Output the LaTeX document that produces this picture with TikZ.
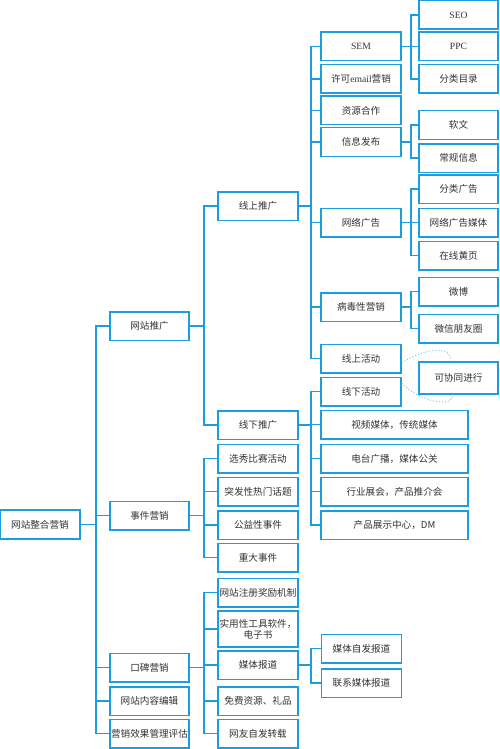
\documentclass[tikz,border=0pt]{standalone}
\usepackage{fontspec}
\usepackage{xcolor}
\usepackage{tikz}
\usetikzlibrary{arrows.meta, positioning, calc}
\setmainfont{Noto Sans CJK SC}
\newfontfamily\lat{Liberation Serif}
\definecolor{skyline}{HTML}{1C9DDE}
\definecolor{paleline}{HTML}{7CC6E8}
\definecolor{inkgray}{HTML}{333333}
\tikzstyle{box} = [rectangle, minimum width=80pt, minimum height=28.5pt, inner sep=1pt,
                   text centered, draw=skyline, fill=white, line width=1.5pt,
                   text=inkgray, font=\fontsize{9.6}{11}\selectfont]
\tikzstyle{widebox} = [box, minimum width=147pt]
\tikzstyle{link} = [draw=skyline, line width=1.5pt]
\tikzstyle{together} = [draw=paleline, line width=1pt, dotted]

\begin{document}
\begin{tikzpicture}[x=1pt, y=-1pt]
    \useasboundingbox (0,0) rectangle (500,749);

    % root and first level
    \node[box, minimum width=80pt, minimum height=29pt] (root) at (40,524.5) {网站整合营销};
    \node[box, minimum width=79pt] (tg) at (149.5,326) {网站推广};
    \node[box, minimum width=79pt] (sj) at (149.5,515.5) {事件营销};
    \node[box, minimum width=79pt] (kb) at (149.5,667.5) {口碑营销};
    \node[box, minimum width=79pt] (nr) at (149.5,701) {网站内容编辑};
    \node[box, minimum width=79pt] (pg) at (149.5,733.5) {营销效果管理评估};

    % second level
    \node[box] (xs) at (258,206) {线上推广};
    \node[box] (xx) at (258,425) {线下推广};
    \node[box] (xx1) at (258,458.5) {选秀比赛活动};
    \node[box] (tf) at (258,491.5) {突发性热门话题};
    \node[box] (gy) at (258,525) {公益性事件};
    \node[box] (zd) at (258,557.5) {重大事件};
    \node[box] (zc) at (258,592.5) {网站注册奖励机制};
    \node[box, minimum height=36pt, align=center] (gj) at (258,629) {实用性工具软件，\\电子书};
    \node[box] (mt) at (258,665) {媒体报道};
    \node[box] (mf) at (258,701) {免费资源、礼品};
    \node[box] (zz) at (258,733.5) {网友自发转载};

    % third level
    \node[box] (sem) at (361,46.5) {\lat SEM};
    \node[box] (em) at (361,79) {许可{\lat email}营销};
    \node[box] (zy) at (361,110.5) {资源合作};
    \node[box] (xi) at (361,142) {信息发布};
    \node[box] (wl) at (361,222.5) {网络广告};
    \node[box] (bd) at (361,307) {病毒性营销};
    \node[box] (hd1) at (361,358.5) {线上活动};
    \node[box] (hd2) at (361,391.5) {线下活动};
    \node[widebox] (sp) at (394.5,424.5) {视频媒体，传统媒体};
    \node[widebox] (dt) at (394.5,458.5) {电台广播，媒体公关};
    \node[widebox] (hy) at (394.5,491.5) {行业展会，产品推介会};
    \node[widebox] (cp) at (394.5,525) {产品展示中心，DM};
    \node[box] (zf) at (361.5,648.5) {媒体自发报道};
    \node[box] (lx) at (361.5,683) {联系媒体报道};

    % fourth level
    \node[box, minimum width=79pt] (seo) at (458.5,15) {\lat SEO};
    \node[box, minimum width=79pt] (ppc) at (458.5,46.5) {\lat PPC};
    \node[box, minimum width=79pt] (ml) at (458.5,79) {分类目录};
    \node[box, minimum width=79pt] (rw) at (458.5,125) {软文};
    \node[box, minimum width=79pt] (cg) at (458.5,158) {常规信息};
    \node[box, minimum width=79pt] (fl) at (458.5,189) {分类广告};
    \node[box, minimum width=79pt] (wm) at (458.5,222.5) {网络广告媒体};
    \node[box, minimum width=79pt] (hy2) at (458.5,255.5) {在线黄页};
    \node[box, minimum width=79pt] (wb) at (458.5,291.5) {微博};
    \node[box, minimum width=79pt] (wx) at (458.5,328.5) {微信朋友圈};
    \node[box, minimum width=79pt, minimum height=32pt] (xt) at (458.5,378) {可协同进行};

    % connectors
    \foreach \c in {tg,sj,kb,nr,pg}
        \draw[link] (root.east) -- ++(15,0) |- (\c.west);
    \foreach \c in {xs,xx}
        \draw[link] (tg.east) -- ++(14,0) |- (\c.west);
    \foreach \c in {xx1,tf,gy,zd}
        \draw[link] (sj.east) -- ++(14,0) |- (\c.west);
    \foreach \c in {zc,gj,mt,mf,zz}
        \draw[link] (kb.east) -- ++(14,0) |- (\c.west);
    \foreach \c in {sem,em,zy,xi,wl,bd,hd1}
        \draw[link] (xs.east) -- ++(12,0) |- (\c.west);
    \foreach \c in {hd2,sp,dt,hy,cp}
        \draw[link] (xx.east) -- ++(12,0) |- (\c.west);
    \foreach \c in {zf,lx}
        \draw[link] (mt.east) -- ++(12,0) |- (\c.west);
    \foreach \c in {seo,ppc,ml}
        \draw[link] (sem.east) -- ++(9,0) |- (\c.west);
    \foreach \c in {rw,cg}
        \draw[link] (xi.east) -- ++(9,0) |- (\c.west);
    \foreach \c in {fl,wm,hy2}
        \draw[link] (wl.east) -- ++(9,0) |- (\c.west);
    \foreach \c in {wb,wx}
        \draw[link] (bd.east) -- ++(9,0) |- (\c.west);

    % dotted links to 可协同进行
    \draw[together] ([yshift=-4pt]hd1.east) .. controls (428,347) and (452,346) .. ([xshift=-8pt]xt.north);
    \draw[together] ([yshift=8pt]hd2.east) .. controls (428,407) and (456,405) .. ([xshift=-6pt]xt.south);
\end{tikzpicture}
\end{document}
